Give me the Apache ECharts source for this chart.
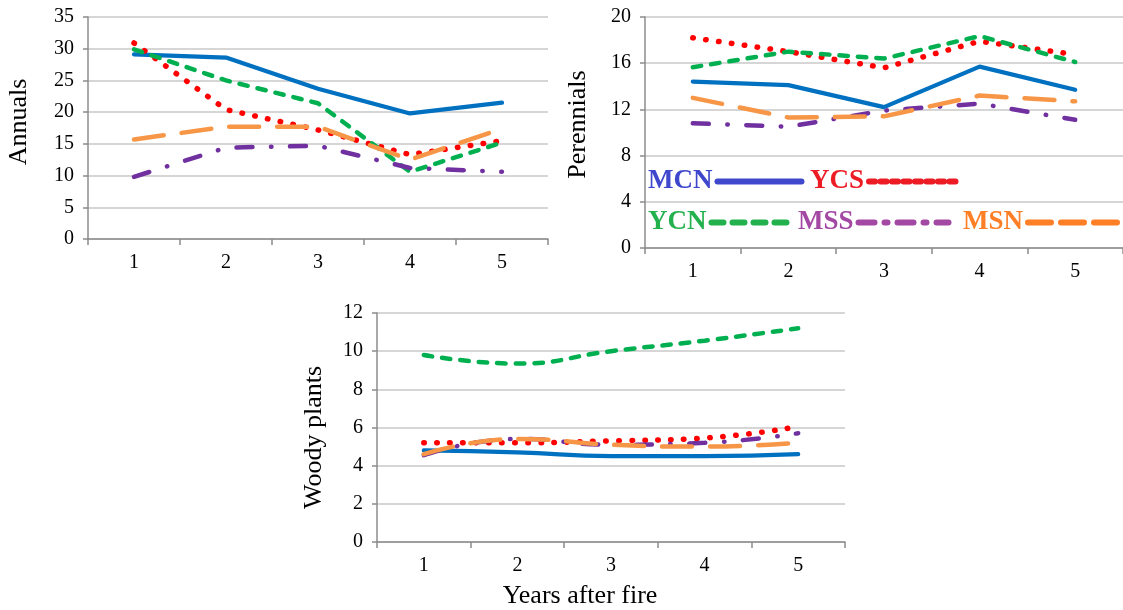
<!DOCTYPE html>
<html>
<head>
<meta charset="utf-8">
<script src="https://cdn.jsdelivr.net/npm/echarts@6/dist/echarts.min.js"></script>
<style>
html,body{margin:0;padding:0;background:#fff;}
#chart{width:1123px;height:610px;}
</style>
</head>
<body>
<div id="chart"></div>
<script>
// ---- data ----
const years = ['1', '2', '3', '4', '5'];
const seriesNames = ['MCN', 'YCS', 'YCN', 'MSS', 'MSN'];

const annualsMCN = [29.1, 28.6, 23.7, 19.8, 21.5];
const annualsYCS = [30.9, 20.4, 17.2, 13.3, 15.5];
const annualsYCN = [29.9, 25.0, 21.4, 10.6, 15.2];
const annualsMSS = [9.8, 14.4, 14.7, 11.2, 10.6];
const annualsMSN = [15.7, 17.7, 17.7, 12.5, 17.4];

const perennialsMCN = [14.4, 14.1, 12.2, 15.7, 13.7];
const perennialsYCS = [18.2, 17.0, 15.6, 17.9, 16.75];
const perennialsYCN = [15.65, 17.0, 16.4, 18.35, 16.1];
const perennialsMSS = [10.8, 10.5, 11.9, 12.5, 11.1];
const perennialsMSN = [13.0, 11.3, 11.4, 13.2, 12.7];

const woodyMCN = [4.8, 4.7, 4.5, 4.5, 4.6];
const woodyYCS = [5.2, 5.2, 5.3, 5.45, 6.05];
const woodyYCN = [9.8, 9.35, 10.0, 10.55, 11.2];
const woodyMSS = [4.55, 5.4, 5.1, 5.2, 5.7];
const woodyMSN = [4.6, 5.4, 5.1, 5.0, 5.2];

const annualsTicks = {max: 35, interval: 5};
const perennialsTicks = {max: 20, interval: 4};
const woodyTicks = {max: 12, interval: 2};

// ---- styles ----
const FONT = 'Liberation Serif';
const lineStyles = {
  MCN: {color: '#0070C0', width: 4.2, type: 'solid', cap: 'round'},
  YCS: {color: '#FF0000', width: 5.5, type: [0.5, 12.5], cap: 'round'},
  YCN: {color: '#00B050', width: 4.5, type: [8.5, 10], cap: 'round'},
  MSS: {color: '#7030A0', width: 4.5, type: [16, 18.5, 0.5, 18.5], cap: 'round'},
  MSN: {color: '#F79646', width: 4.5, type: [30, 18], cap: 'round'}
};
const legendStyles = {
  MCN: {color: '#3F48CC', line: {color: '#3F48CC', width: 6, type: 'solid'}, left: 648, top: 168, w: 84},
  YCS: {color: '#ED1C24', line: {color: '#ED1C24', width: 6, type: [6, 5.5]}, left: 810, top: 168, w: 92},
  YCN: {color: '#22B14C', line: {color: '#22B14C', width: 6, type: [12, 9]}, left: 648, top: 209, w: 79},
  MSS: {color: '#A349A4', line: {color: '#A349A4', width: 6, type: [16, 10, 3, 10]}, left: 798, top: 209, w: 90},
  MSN: {color: '#FF7F27', line: {color: '#FF7F27', width: 6, type: [23, 10]}, left: 963, top: 209, w: 110}
};

const panels = [
  {name: 'Annuals', ticks: annualsTicks, data: [annualsMCN, annualsYCS, annualsYCN, annualsMSS, annualsMSN], smooth: false,
   grid: {left: 88, top: 17, width: 460, height: 222}, nameGap: 56, namePad: [0, 0, 0, 12]},
  {name: 'Perennials', ticks: perennialsTicks, data: [perennialsMCN, perennialsYCS, perennialsYCN, perennialsMSS, perennialsMSN], smooth: false,
   grid: {left: 645, top: 17, width: 485, height: 231}, nameGap: 54, namePad: [0, 0, 0, 16]},
  {name: 'Woody plants', ticks: woodyTicks, data: [woodyMCN, woodyYCS, woodyYCN, woodyMSS, woodyMSN], smooth: true,
   grid: {left: 377, top: 313, width: 468, height: 229}, nameGap: 50, namePad: [0, 20, 0, 0]}
];

const axisLineStyle = {color: '#8c8c8c', width: 1.5};

const grids = [], xAxes = [], yAxes = [], series = [];
panels.forEach((p, i) => {
  grids.push(Object.assign({containLabel: false}, p.grid));
  const xa = {
    type: 'category', gridIndex: i, data: years, boundaryGap: true,
    axisLine: {lineStyle: axisLineStyle},
    axisTick: {show: true, length: 6, lineStyle: axisLineStyle},
    axisLabel: {fontSize: 20, color: '#000', fontFamily: FONT, margin: 14},
    splitLine: {show: false}
  };
  if (i === 2) {
    xa.name = 'Years after fire';
    xa.nameLocation = 'middle';
    xa.nameGap = 41;
    xa.nameTextStyle = {fontSize: 26, color: '#000', fontFamily: FONT, padding: [0, 62, 0, 0]};
  }
  xAxes.push(xa);
  yAxes.push({
    type: 'value', gridIndex: i, min: 0, max: p.ticks.max, interval: p.ticks.interval,
    name: p.name, nameLocation: 'middle', nameGap: p.nameGap,
    nameTextStyle: {fontSize: 26, color: '#000', fontFamily: FONT, padding: p.namePad},
    axisLine: {show: true, lineStyle: axisLineStyle},
    axisTick: {show: true, length: 5, lineStyle: axisLineStyle},
    axisLabel: {fontSize: 20, color: '#000', fontFamily: FONT, margin: 14},
    splitLine: {show: true, lineStyle: {color: '#c8c8c8', width: 1.5}}
  });
  seriesNames.forEach((n, k) => {
    series.push({
      name: n, type: 'line', xAxisIndex: i, yAxisIndex: i,
      data: p.data[k], smooth: p.smooth, symbol: 'none',
      lineStyle: lineStyles[n], z: 2 + k, silent: true
    });
  });
});

const legends = seriesNames.map(n => {
  const s = legendStyles[n];
  return {
    data: [{name: n, textStyle: {color: s.color}, lineStyle: s.line, itemStyle: {color: s.color, opacity: 0}}],
    left: s.left, top: s.top, align: 'right', orient: 'horizontal',
    itemWidth: s.w, itemHeight: 8, padding: 0, selectedMode: false,
    textStyle: {fontSize: 27, fontWeight: 'bold', fontFamily: FONT, color: s.color, padding: [0, 0, 0, 0]}
  };
});

const chart = echarts.init(document.getElementById('chart'), null, {renderer: 'canvas'});
chart.setOption({
  animation: false,
  backgroundColor: '#fff',
  grid: grids,
  xAxis: xAxes,
  yAxis: yAxes,
  legend: legends,
  series: series
});
</script>
</body>
</html>
